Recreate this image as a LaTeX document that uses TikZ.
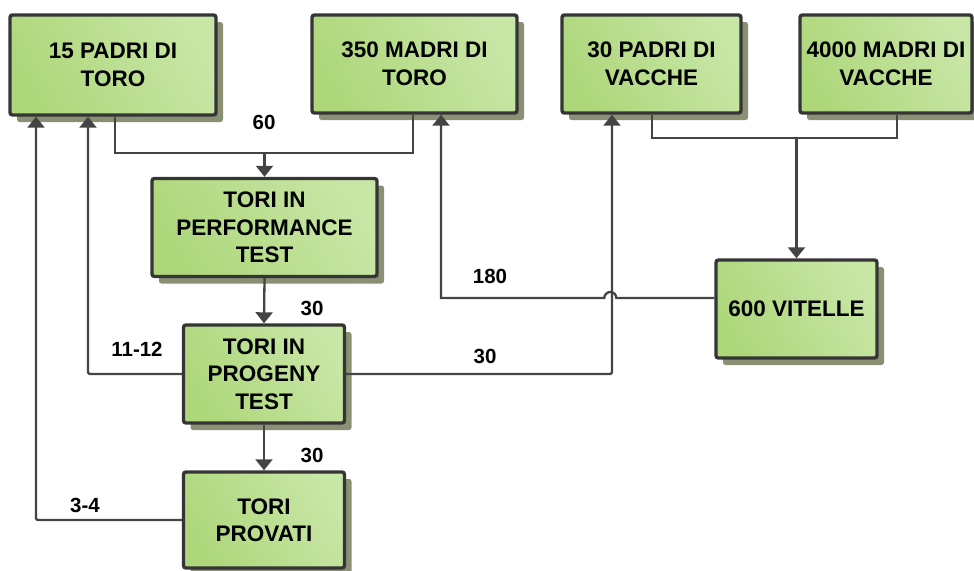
\documentclass[tikz,border=0pt]{standalone}
\usepackage{fontspec}
\setmainfont{Liberation Sans}
\usetikzlibrary{arrows.meta,shadows}
\definecolor{boxA}{HTML}{AED77B}
\definecolor{boxB}{HTML}{C8E6A6}
\definecolor{edge}{HTML}{353535}
\definecolor{lnc}{HTML}{444444}
\definecolor{shd}{HTML}{8A9074}
\tikzset{
  blk/.style={draw=edge, line width=3.4pt, rounded corners=2.5pt,
    left color=boxA, right color=boxB, shading angle=120,
    drop shadow={shadow xshift=7pt, shadow yshift=-7pt, fill=shd, opacity=1},
    align=center, font=\fontsize{22.5}{27.5}\selectfont\bfseries,
    inner sep=0pt},
  ln/.style={draw=lnc, line width=2.3pt},
  arr/.style={ln, -{Triangle[width=17pt,length=11pt]}},
  lbl/.style={font=\fontsize{20.5}{24}\selectfont\bfseries, inner sep=0pt}
}
\begin{document}
\begin{tikzpicture}[x=1pt,y=-1pt]
\useasboundingbox (0,0) rectangle (974,570);
% boxes
\node[blk, minimum width=206pt, minimum height=100pt] (p15) at (113,65) {15 PADRI DI\\TORO};
\node[blk, minimum width=205pt, minimum height=98pt] (m350) at (414.5,64) {350 MADRI DI\\TORO};
\node[blk, minimum width=179pt, minimum height=98pt] (p30) at (651.5,64) {30 PADRI DI\\VACCHE};
\node[blk, minimum width=172pt, minimum height=98pt] (m4000) at (886,64) {4000 MADRI DI\\VACCHE};
\node[blk, minimum width=225pt, minimum height=98pt] (perf) at (264.5,227.5) {TORI IN\\PERFORMANCE\\TEST};
\node[blk, minimum width=161pt, minimum height=98pt] (prog) at (264,374) {TORI IN\\PROGENY\\TEST};
\node[blk, minimum width=161pt, minimum height=96pt] (prov) at (264,520) {TORI\\PROVATI};
\node[blk, minimum width=161pt, minimum height=98pt] (vit) at (796.5,309) {600 VITELLE};
% junctions
\coordinate (j1) at (264.5,153);
\coordinate (j2) at (796.5,138);
% connectors
\draw[ln] ([xshift=2pt]p15.south) |- (j1) -| ([xshift=-1.5pt]m350.south);
\draw[arr] (j1) -- (perf.north);
\draw[arr] (perf.south) -- (prog.north);
\draw[arr] (prog.south) -- (prov.north);
\draw[arr, rounded corners=1.5pt] (prov.west) -| ([xshift=-77pt]p15.south);
\draw[arr, rounded corners=1.5pt] (prog.west) -| ([xshift=-25pt]p15.south);
\draw[arr, rounded corners=1.5pt] (prog.east) -| ([xshift=-39.5pt]p30.south);
\draw[arr] ([yshift=11pt]vit.west) -- ++(-98,0) arc[start angle=0, end angle=-180, radius=6] -| ([xshift=26.5pt]m350.south);
\draw[ln] ([xshift=0.5pt]p30.south) |- (j2) -| ([xshift=11pt]m4000.south);
\draw[arr] (j2) -- (vit.north);
% labels
\node[lbl] (l60) at (264,122) {60};
\node[lbl] (l30a) at (312,308) {30};
\node[lbl] (l30b) at (312,455) {30};
\node[lbl] (l1112) at (137,349) {11-12};
\node[lbl] (l30c) at (485,356) {30};
\node[lbl] (l180) at (490,276) {180};
\node[lbl] (l34) at (85,505) {3-4};
\end{tikzpicture}
\end{document}
